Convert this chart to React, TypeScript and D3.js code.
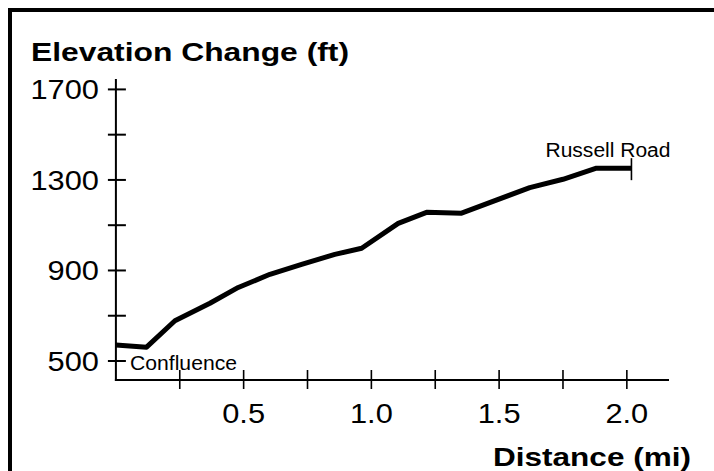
import React from 'react';
import * as d3 from 'd3';

// trail profile
const distances = [0, 0.12, 0.231, 0.368, 0.479, 0.603, 0.727, 0.857, 0.962, 1.105, 1.216, 1.353, 1.62, 1.75, 1.881, 2.018];
const elevations = [571, 561, 678, 755, 825, 883, 927, 971, 998, 1108, 1157, 1153, 1266, 1303, 1352, 1352];

const yTicks = [500, 700, 900, 1100, 1300, 1500, 1700];
const yLabels = [500, 900, 1300, 1700];
const xTicks = [0.25, 0.5, 0.75, 1.0, 1.25, 1.5, 1.75, 2.0];
const xLabels = [0.5, 1.0, 1.5, 2.0];

const W = 714;
const H = 471;
const FONT = "Arial, 'Liberation Sans', Helvetica, sans-serif";

export default function App() {
  const x = d3.scaleLinear().domain([0, 2.165]).range([115.9, 669]);
  const y = d3.scaleLinear().domain([416, 1746]).range([380, 79]);

  const points = distances.map((d, i) => [d, elevations[i]] as [number, number]);
  const line = d3.line<[number, number]>()
    .x(d => x(d[0]))
    .y(d => y(d[1]));

  const [x0, x1] = x.range();
  const [y0, y1] = y.range();
  const last = points[points.length - 1];

  return (
    <svg width={W} height={H} style={{ position: 'absolute', left: 0, top: 0 }} fontFamily={FONT}>
      <rect x={0} y={0} width={W} height={H} fill="#fff" />
      {/* frame, cut off at right and bottom */}
      <rect x={10} y={10} width={W + 20} height={H + 20} fill="none" stroke="#000" strokeWidth={4} />

      <text x={31} y={61} fontSize={26.5} fontWeight="bold" textLength={318} lengthAdjust="spacingAndGlyphs">
        Elevation Change (ft)
      </text>

      {/* y axis */}
      <line x1={x0} x2={x0} y1={y1} y2={y0 + 1} stroke="#000" strokeWidth={2} />
      {yTicks.map(t => (
        <line key={t} x1={x0 - 8} x2={x0 + 10} y1={y(t)} y2={y(t)} stroke="#000" strokeWidth={2} />
      ))}
      {yLabels.map(t => (
        <text key={t} transform={`translate(${x0 - 17},${y(t) + 10}) scale(1.1,1)`} fontSize={28} textAnchor="end">
          {t}
        </text>
      ))}

      {/* x axis */}
      <line x1={x0 - 1} x2={x1} y1={y0} y2={y0} stroke="#000" strokeWidth={2} />
      {xTicks.map(t => (
        <line key={t} x1={x(t)} x2={x(t)} y1={y0 - 10} y2={y0 + 9} stroke="#000" strokeWidth={1.6} />
      ))}
      {xLabels.map(t => (
        <text key={t} transform={`translate(${x(t)},${422.5}) scale(1.1,1)`} fontSize={28} textAnchor="middle">
          {d3.format('.1f')(t)}
        </text>
      ))}

      <text x={493} y={465.5} fontSize={26.5} fontWeight="bold" textLength={198} lengthAdjust="spacingAndGlyphs">
        Distance (mi)
      </text>

      {/* profile */}
      <path d={line(points) ?? ''} fill="none" stroke="#000" strokeWidth={5} strokeLinejoin="round" />
      <line x1={x(last[0])} x2={x(last[0])} y1={y(last[1]) - 10} y2={y(last[1]) + 12} stroke="#000" strokeWidth={1.6} />

      <text x={130} y={369.5} fontSize={21} textLength={107} lengthAdjust="spacingAndGlyphs">Confluence</text>
      <text x={545.5} y={156.5} fontSize={19.5} textLength={125} lengthAdjust="spacingAndGlyphs">Russell Road</text>
    </svg>
  );
}
